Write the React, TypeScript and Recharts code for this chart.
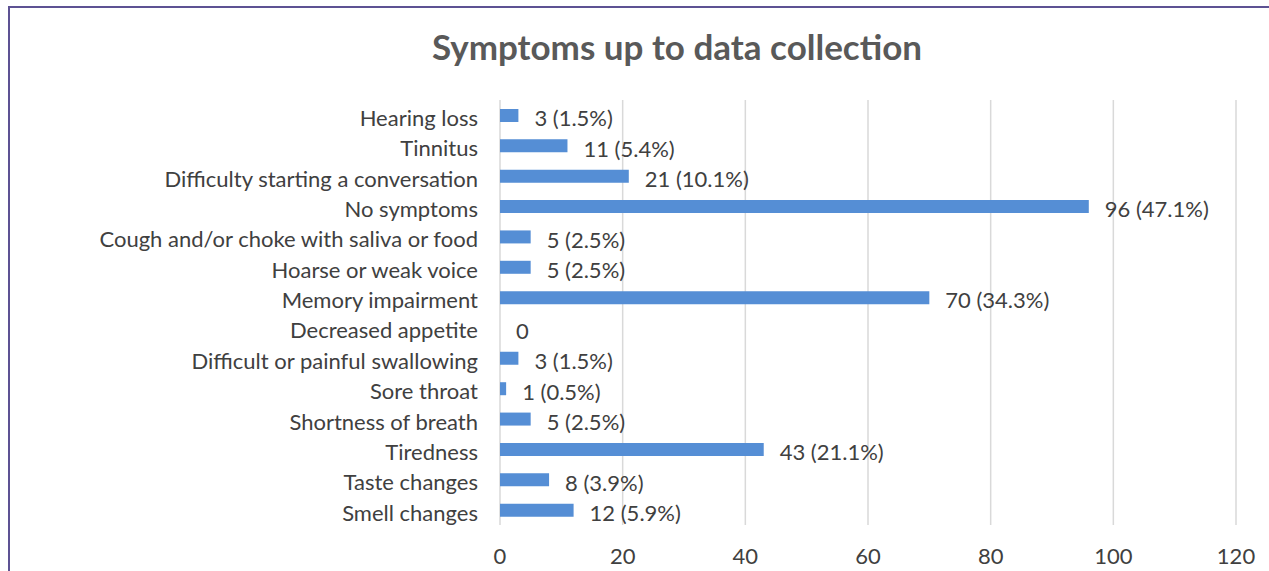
import { Bar, BarChart, CartesianGrid, LabelList, XAxis, YAxis } from 'recharts';

const symptoms = [
  'Hearing loss',
  'Tinnitus',
  'Difficulty starting a conversation',
  'No symptoms',
  'Cough and/or choke with saliva or food',
  'Hoarse or weak voice',
  'Memory impairment',
  'Decreased appetite',
  'Difficult or painful swallowing',
  'Sore throat',
  'Shortness of breath',
  'Tiredness',
  'Taste changes',
  'Smell changes',
];
const counts = [3, 11, 21, 96, 5, 5, 70, 0, 3, 1, 5, 43, 8, 12];
const percents = ['1.5%', '5.4%', '10.1%', '47.1%', '2.5%', '2.5%', '34.3%', '', '1.5%', '0.5%', '2.5%', '21.1%', '3.9%', '5.9%'];
const xTicks = [0, 20, 40, 60, 80, 100, 120];

const FONT = 'Lato, "Open Sans", sans-serif';

export default function App() {
  const data = symptoms.map((name, i) => ({
    name,
    count: counts[i],
    label: percents[i] ? `${counts[i]} (${percents[i]})` : String(counts[i]),
  }));

  return (
    <div style={{ position: 'absolute', left: 0, top: 0, width: 1269, height: 571, overflow: 'hidden', background: '#fff' }}>
      <div
        style={{
          position: 'absolute',
          left: 8,
          top: 6,
          width: 1300,
          height: 620,
          border: '2px solid #5d5293',
        }}
      />
      <div
        style={{
          position: 'absolute',
          left: 0,
          top: 25,
          width: 1354,
          textAlign: 'center',
          fontFamily: FONT,
          fontWeight: 700,
          fontSize: 35,
          color: '#595959',
          lineHeight: '42px',
        }}
      >
        Symptoms up to data collection
      </div>
      <div style={{ position: 'absolute', left: 0, top: 0 }}>
        <BarChart
          width={1269}
          height={571}
          data={data}
          layout="vertical"
          margin={{ top: 100, right: 33, bottom: 0, left: 0 }}
          barCategoryGap={0}
        >
          <CartesianGrid horizontal={false} stroke="#d9d9d9" strokeWidth={1.5} />
          <XAxis
            type="number"
            domain={[0, 120]}
            ticks={xTicks}
            axisLine={false}
            tickLine={false}
            tickSize={0}
            tickMargin={23}
            height={46}
            tick={{ fill: '#404040', fontSize: 22, fontFamily: FONT }}
          />
          <YAxis
            type="category"
            dataKey="name"
            width={500}
            axisLine={false}
            tickLine={false}
            tickSize={0}
            tickMargin={22}
            interval={0}
            tick={{ fill: '#404040', fontSize: 22, fontFamily: FONT, dy: 3 }}
          />
          <Bar dataKey="count" fill="#558ed5" barSize={13} minPointSize={0.001} isAnimationActive={false}>
            <LabelList dataKey="label" position="right" offset={16} fill="#404040" fontSize={22} fontFamily={FONT} dy={3} />
          </Bar>
        </BarChart>
      </div>
    </div>
  );
}
